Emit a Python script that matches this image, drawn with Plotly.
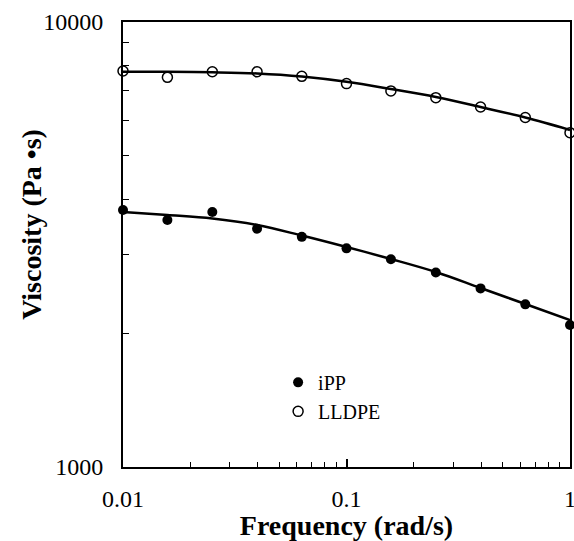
import plotly.graph_objects as go

freq = [0.01, 0.0158, 0.0251, 0.0398, 0.0631, 0.1, 0.158, 0.251, 0.398, 0.631, 1.0]

# measured points
ipp_pts = [3780, 3590, 3740, 3430, 3290, 3100, 2930, 2735, 2520, 2320, 2085]
lldpe_pts = [7760, 7510, 7730, 7730, 7550, 7270, 7000, 6760, 6440, 6100, 5640]

# fitted curves
ipp_fit = [3741, 3684, 3618, 3499, 3313, 3122, 2934, 2743, 2525, 2324, 2139]
lldpe_fit = [7733, 7730, 7709, 7661, 7541, 7338, 7069, 6783, 6440, 6100, 5720]

x_tickvals = [0.01, 0.1, 1]
x_ticktext = ["0.01", "0.1", "1"]
y_tickvals = [1000, 10000]
y_ticktext = ["1000", "10000"]

serif = "Liberation Serif, Times New Roman, serif"

fig = go.Figure()
fig.add_trace(go.Scatter(x=freq, y=lldpe_fit, mode="lines", line=dict(color="black", width=2.5, shape="spline"),
                         showlegend=False, hoverinfo="skip"))
fig.add_trace(go.Scatter(x=freq, y=ipp_fit, mode="lines", line=dict(color="black", width=2.5, shape="spline"),
                         showlegend=False, hoverinfo="skip"))
fig.add_trace(go.Scatter(x=freq, y=ipp_pts, mode="markers", name="iPP",
                         marker=dict(symbol="circle", size=10, color="black"), cliponaxis=False))
fig.add_trace(go.Scatter(x=freq, y=lldpe_pts, mode="markers", name="LLDPE",
                         marker=dict(symbol="circle-open", size=10, color="black", line=dict(width=1.5)),
                         cliponaxis=False))

fig.update_layout(
    width=574, height=541,
    margin=dict(l=123, r=4, t=22, b=74, autoexpand=False),
    paper_bgcolor="white", plot_bgcolor="white",
    font=dict(family=serif, color="black", size=24),
    showlegend=True,
    legend=dict(x=0.347, y=0.234, xanchor="left", yanchor="top", bgcolor="rgba(0,0,0,0)",
                font=dict(family=serif, size=20), itemwidth=30, tracegroupgap=0),
    annotations=[dict(text="<b>Viscosity (Pa •s)</b>", xref="paper", yref="paper",
                      x=-0.205, y=0.545, xanchor="center", yanchor="middle", textangle=-90,
                      showarrow=False, font=dict(size=28, family=serif))],
)
fig.update_xaxes(
    type="log", range=[-2, 0], tickvals=x_tickvals, ticktext=x_ticktext,
    ticks="inside", ticklen=8, tickwidth=1.5, tickcolor="black", ticklabelstandoff=9,
    ticklabeloverflow="allow",
    minor=dict(ticks="inside", ticklen=5, tickwidth=1, tickcolor="black", dtick="D1", showgrid=False),
    showline=True, linecolor="black", linewidth=2, mirror=True, showgrid=False, zeroline=False,
    tickfont=dict(size=24, family=serif),
    title=dict(text="<b>Frequency (rad/s)</b>", font=dict(size=28, family=serif), standoff=4),
)
fig.update_yaxes(
    type="log", range=[3, 4], tickvals=y_tickvals, ticktext=y_ticktext,
    ticks="inside", ticklen=8, tickwidth=1.5, tickcolor="black", ticklabelstandoff=13,
    ticklabeloverflow="allow",
    minor=dict(ticks="inside", ticklen=6, tickwidth=1, tickcolor="black", dtick="D1", showgrid=False),
    showline=True, linecolor="black", linewidth=2, mirror=True, showgrid=False, zeroline=False,
    tickfont=dict(size=24, family=serif),
)

fig.write_html("out.html", config={"displayModeBar": False},
               post_script="document.body.style.margin='0';document.body.style.overflow='hidden';")
